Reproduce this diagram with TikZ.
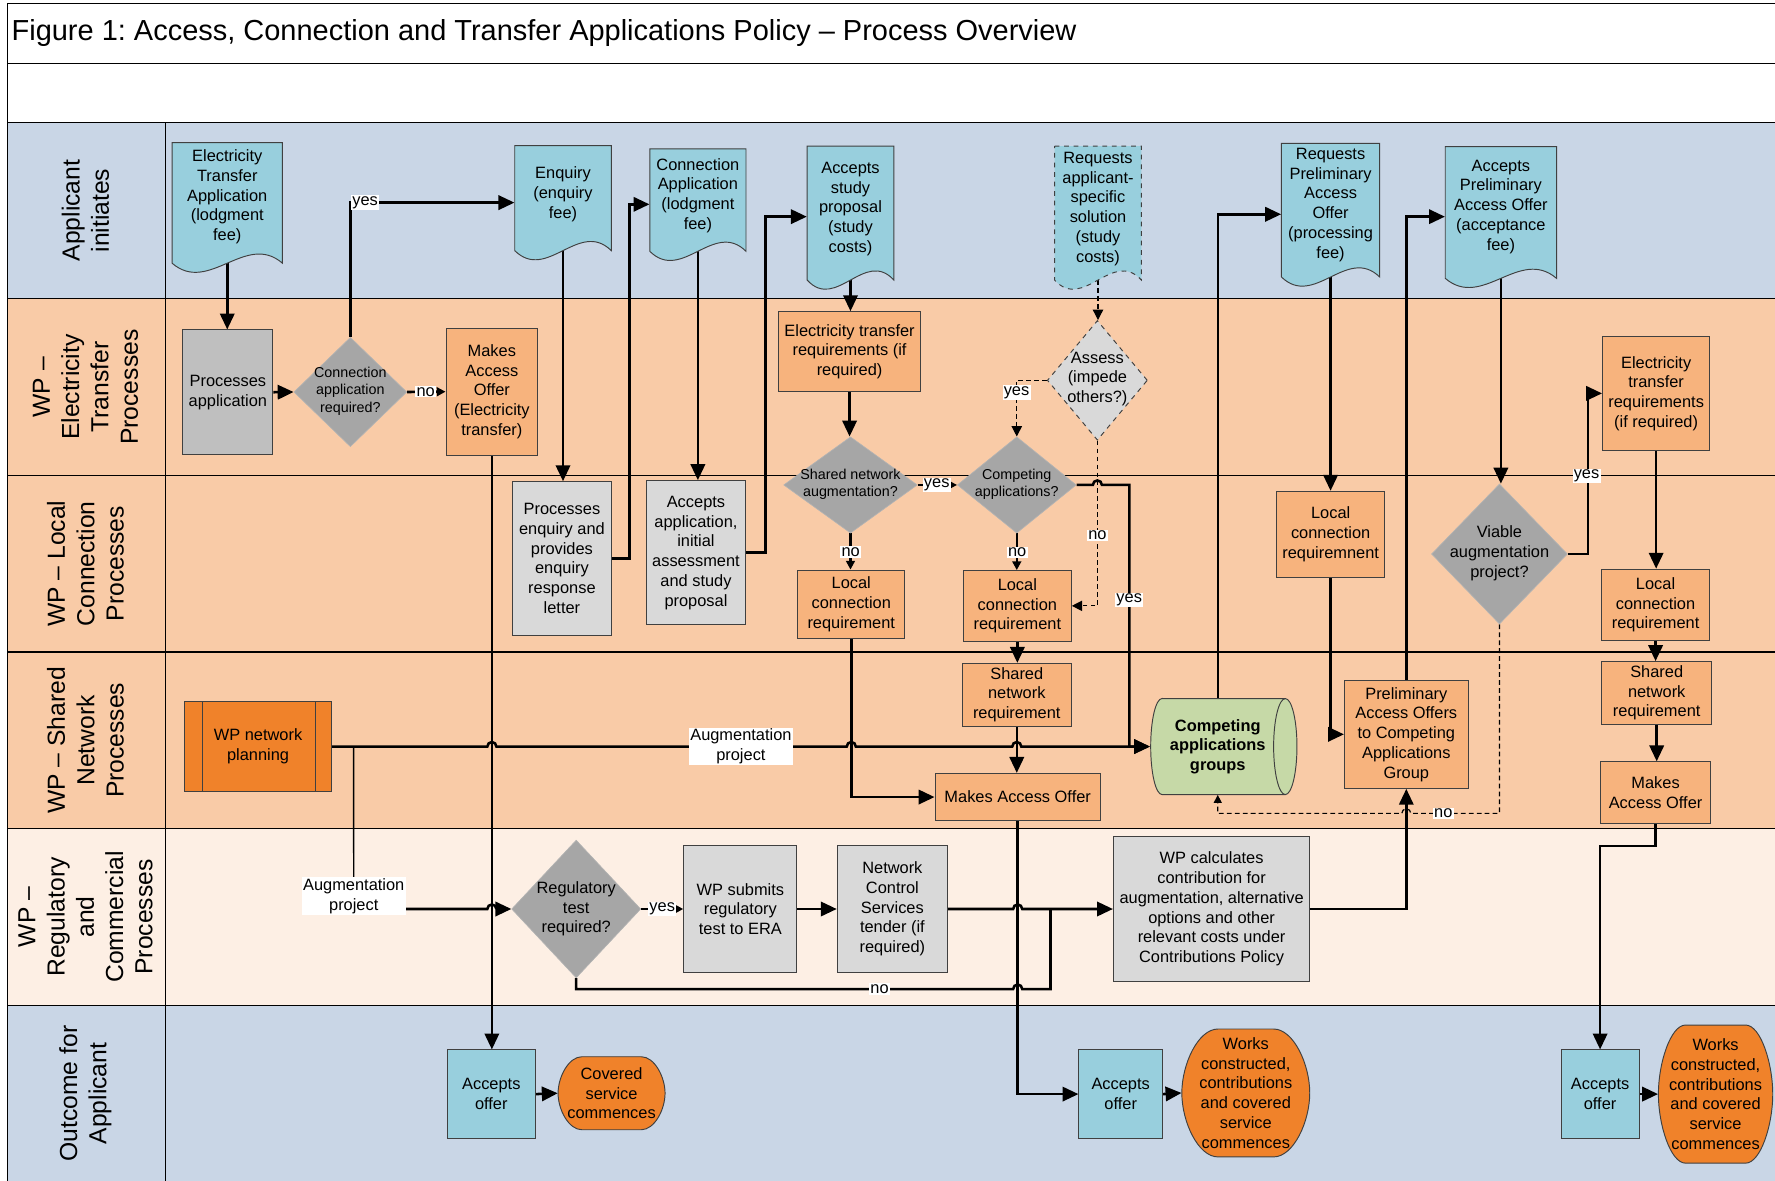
\documentclass[tikz,border=0pt]{standalone}
\usepackage{fontspec}
\setmainfont{Liberation Sans}
\usetikzlibrary{shapes.geometric,arrows.meta,calc}
\pgfdeclarelayer{bg}
\pgfdeclarelayer{lines}
\pgfsetlayers{bg,lines,main}
\frenchspacing
\definecolor{laneblue}{HTML}{C9D6E6}
\definecolor{lanepeach}{HTML}{F9CBA7}
\definecolor{lanelight}{HTML}{FDEFE4}
\definecolor{docblue}{HTML}{98CFDD}
\definecolor{orangebox}{HTML}{F7B37D}
\definecolor{dorange}{HTML}{F0822A}
\definecolor{graydia}{HTML}{A6A6A6}
\definecolor{graymid}{HTML}{BFBFBF}
\definecolor{graylt}{HTML}{D9D9D9}
\definecolor{cylgreen}{HTML}{C6D9A7}
\definecolor{boxedge}{HTML}{404040}
\newcommand{\docpath}[5][]{\path[docshape,#1] (#2,#3) -- (#4,#3) -- (#4,#5) .. controls ({#4-(#4-#2)/3},{#5-28}) and ({#2+(#4-#2)/3},{#5+28}) .. (#2,#5) -- cycle;}
\newcommand{\termpath}[5]{\path[termshape] ({#1+#5},#2) -- ({#3-#5},#2) .. controls ({#3-0.4477*#5},#2) and (#3,{#2+0.2761*(#4-#2)}) .. (#3,{(#2+#4)/2}) .. controls (#3,{#4-0.2761*(#4-#2)}) and ({#3-0.4477*#5},#4) .. ({#3-#5},#4) -- ({#1+#5},#4) .. controls ({#1+0.4477*#5},#4) and (#1,{#4-0.2761*(#4-#2)}) .. (#1,{(#2+#4)/2}) .. controls (#1,{#2+0.2761*(#4-#2)}) and ({#1+0.4477*#5},#2) .. ({#1+#5},#2) -- cycle;}
\tikzset{
  every node/.style={font=\fontsize{10.3}{12.4}\selectfont, inner sep=0pt, align=center},
  box/.style={rectangle, draw=boxedge, line width=0.6pt},
  obox/.style={box, fill=orangebox},
  gbox/.style={box, fill=graylt},
  bbox/.style={box, fill=docblue},
  docshape/.style={fill=docblue, draw=boxedge, line width=0.6pt},
  termshape/.style={fill=dorange, draw=boxedge, line width=0.6pt},
  doctext/.style={rectangle},
  dia/.style={diamond, fill=graydia, draw=graydia!85!white, line width=0.4pt},
  sm/.style={font=\fontsize{9}{11}\selectfont},
  lab/.style={fill=white, inner sep=0.8pt},
  lanelab/.style={rotate=90, font=\fontsize{15.5}{18.4}\selectfont},
  conn/.style={line width=1.6pt, -{Triangle[length=10pt,width=9pt]}},
  sconn/.style={line width=1.6pt, -{Triangle[length=5.5pt,width=5.5pt]}},
  plainline/.style={line width=1.6pt},
  dconn/.style={line width=0.75pt, dash pattern=on 3pt off 2pt, -{Triangle[length=6.5pt,width=6.5pt]}},
  dsconn/.style={line width=0.75pt, dash pattern=on 3pt off 2pt, -{Triangle[length=5pt,width=5pt]}},
}
\begin{document}
\begin{tikzpicture}[x=0.025cm,y=-0.025cm]
\useasboundingbox (0,0) rectangle (1568,1043);
\begin{pgfonlayer}{bg}
  \fill[white] (0,0) rectangle (1568,1043);
  \fill[laneblue] (7,108) rectangle (1568,264);
  \fill[lanepeach] (7,264) rectangle (1568,732);
  \fill[lanelight] (7,732) rectangle (1568,888);
  \fill[laneblue] (7,888) rectangle (1568,1043);
  \draw[line width=0.7pt] (7,1043) -- (7,3) -- (1568,3);
  \foreach \yy in {56,108,264,420,576,732,888} \draw[line width=0.7pt] (7,\yy) -- (1568,\yy);
  \draw[line width=0.7pt] (146,108) -- (146,1043);
\end{pgfonlayer}

\node[anchor=west, font=\fontsize{18.2}{22}\selectfont] (title) at (10,29.5) {Figure 1: Access, Connection and Transfer Applications Policy – Process Overview};

% lane labels
\node[lanelab] (L1) at (75.5,186) {Applicant\\initiates};
\node[lanelab] (L2) at (75.5,342) {WP –\\Electricity\\Transfer\\Processes};
\node[lanelab] (L3) at (75.5,498) {WP – Local\\Connection\\Processes};
\node[lanelab] (L4) at (75.5,654) {WP – Shared\\Network\\Processes};
\node[lanelab] (L5) at (75.5,810) {WP –\\Regulatory\\and\\Commercial\\Processes};
\node[lanelab] (L6) at (75.5,966) {Outcome for\\Applicant};

% documents
\docpath{152}{126}{249.5}{232.5}
\node[doctext, minimum width=2.4375cm, minimum height=2.4cm] (eta) at (200.75,174) {Electricity\\Transfer\\Application\\(lodgment\\fee)};
\docpath{454.7}{128.7}{540}{221.4}
\node[doctext, minimum width=2.1325cm, minimum height=2.14cm] (enq) at (497.35,171.5) {Enquiry\\(enquiry\\fee)};
\docpath{574}{131.6}{659}{222}
\node[doctext, minimum width=2.125cm, minimum height=2.055cm] (capp) at (616.5,172.7) {Connection\\Application\\(lodgment\\fee)};
\docpath{713}{129}{789.6}{247.4}
\node[doctext, minimum width=1.915cm, minimum height=2.775cm] (asp) at (751.3,184.5) {Accepts\\study\\proposal\\(study\\costs)};
\docpath[dashed]{931.6}{129}{1008.3}{247.4}
\node[doctext, minimum width=1.9175cm, minimum height=2.775cm] (rass) at (969.95,184.5) {Requests\\applicant-\\specific\\solution\\(study\\costs)};
\docpath{1132}{126.6}{1218.8}{244.7}
\node[doctext, minimum width=2.17cm, minimum height=2.72cm] (rpao) at (1175.4,181) {Requests\\Preliminary\\Access\\Offer\\(processing\\fee)};
\docpath{1276.7}{129.6}{1375}{245.9}
\node[doctext, minimum width=2.4575cm, minimum height=2.645cm] (apao) at (1325.85,182.5) {Accepts\\Preliminary\\Access Offer\\(acceptance\\fee)};

% WP - Electricity transfer lane
\node[box, fill=graymid, minimum width=1.985cm, minimum height=2.75cm] (pa) at (201.3,346.5) {Processes\\application};
\node[dia, minimum width=2.4925cm, minimum height=2.415cm] (car) at (309.5,346.3) {};
\node[sm] (car-t) at (309.5,345.3) {Connection\\application\\required?};
\node[obox, minimum width=2.025cm, minimum height=2.8cm] (maoET) at (434.5,346) {Makes\\Access\\Offer\\(Electricity\\transfer)};
\node[obox, minimum width=3.125cm, minimum height=1.7675cm] (etr1) at (750.5,310.7) {Electricity transfer\\requirements (if\\required)};
\node[diamond, fill=graylt, draw=boxedge, line width=0.6pt, dashed, minimum width=2.21cm, minimum height=2.6425cm] (ass) at (969.4,336) {};
\node (ass-t) at (969.4,334.7) {Assess\\(impede\\others?)};
\node[obox, minimum width=2.3675cm, minimum height=2.5cm] (etr2) at (1463,347.5) {Electricity\\transfer\\requirements\\(if required)};

% decisions on boundary
\node[dia, minimum width=2.95cm, minimum height=2.125cm] (sna) at (751.3,428.4) {};
\node[sm] (sna-t) at (751.3,428) {Shared network\\augmentation?};
\node[dia, minimum width=2.625cm, minimum height=2.125cm] (cap) at (898.2,428.4) {};
\node[sm] (cap-t) at (898.2,428) {Competing\\applications?};

% WP - Local connection lane
\node[gbox, minimum width=2.18cm, minimum height=3.3875cm] (pe) at (496.4,493.3) {Processes\\enquiry and\\provides\\enquiry\\response\\letter};
\node[gbox, minimum width=2.18cm, minimum height=3.185cm] (aa) at (614.8,488.3) {Accepts\\application,\\initial\\assessment\\and study\\proposal};
\node[obox, minimum width=2.3625cm, minimum height=1.505cm] (lcr1) at (752,533.7) {Local\\connection\\requirement};
\node[obox, minimum width=2.385cm, minimum height=1.5575cm] (lcr2) at (898.7,535.2) {Local\\connection\\requirement};
\node[obox, minimum width=2.375cm, minimum height=1.9cm] (lcr3) at (1175.5,472) {Local\\connection\\requiremnent};
\node[dia, minimum width=3.0cm, minimum height=3.0925cm] (via) at (1324.6,489.4) {};
\node (via-t) at (1324.6,488.7) {Viable\\augmentation\\project?};
\node[obox, minimum width=2.375cm, minimum height=1.58cm] (lcr4) at (1462.5,534.4) {Local\\connection\\requirement};

% WP - Shared network lane
\node[box, fill=dorange, minimum width=3.25cm, minimum height=1.975cm] (wpnet) at (228,659.5) {WP network\\planning};
\draw[boxedge, line width=0.6pt] ($(wpnet.north west)+(16,0)$) -- ($(wpnet.south west)+(16,0)$)
  ($(wpnet.north east)+(-15,0)$) -- ($(wpnet.south east)+(-15,0)$);
\node[obox, minimum width=2.41cm, minimum height=1.385cm] (snr1) at (898.2,613.7) {Shared\\network\\requirement};
\node[obox, minimum width=3.65cm, minimum height=1.045cm] (mao1) at (899,704.1) {Makes Access Offer};
\path[fill=cylgreen, draw=boxedge, line width=0.6pt] (1026.5,617.1) -- (1135.4,617.1)
  arc[start angle=90,end angle=-90,x radius=0.2575cm,y radius=1.06cm] -- (1026.5,701.9)
  arc[start angle=270,end angle=90,x radius=0.25cm,y radius=1.06cm] -- cycle;
\draw[boxedge, line width=0.6pt] (1135.4,617.1) arc[start angle=90,end angle=270,x radius=0.2575cm,y radius=1.06cm];
\node[minimum width=2.98cm, minimum height=2.12cm, font=\bfseries\fontsize{10.3}{12.4}\selectfont] (cyl) at (1075.75,659.5) {Competing\\applications\\groups};
\node[obox, minimum width=2.7325cm, minimum height=2.385cm] (pao) at (1242.3,648.7) {Preliminary\\Access Offers\\to Competing\\Applications\\Group};
\node[obox, minimum width=2.425cm, minimum height=1.3775cm] (snr2) at (1463.5,612) {Shared\\network\\requirement};
\node[obox, minimum width=2.425cm, minimum height=1.35cm] (mao2) at (1462.5,700) {Makes\\Access Offer};

% WP - Regulatory lane
\node[dia, minimum width=2.85cm, minimum height=3.0425cm] (reg) at (509,803) {};
\node (reg-t) at (509,803) {Regulatory\\test\\required?};
\node[gbox, minimum width=2.5cm, minimum height=2.81cm] (wps) at (654,803) {WP submits\\regulatory\\test to ERA};
\node[gbox, minimum width=2.435cm, minimum height=2.81cm] (ncs) at (788.3,803) {Network\\Control\\Services\\tender (if\\required)};
\node[gbox, minimum width=4.335cm, minimum height=3.2cm] (wpc) at (1070.3,803) {WP calculates\\contribution for\\augmentation, alternative\\options and other\\relevant costs under\\Contributions Policy};

% Outcome lane
\node[bbox, minimum width=1.95cm, minimum height=1.95cm] (ao1) at (434,966.5) {Accepts\\offer};
\node[bbox, minimum width=1.845cm, minimum height=1.95cm] (ao2) at (990,966.5) {Accepts\\offer};
\node[bbox, minimum width=1.725cm, minimum height=1.95cm] (ao3) at (1413.5,966.5) {Accepts\\offer};
\termpath{493}{933.5}{587.5}{998}{21}
\node[minimum width=2.3625cm, minimum height=1.6125cm] (csc) at (540.25,965.75) {Covered\\service\\commences};
\termpath{1044}{909}{1157}{1022}{32}
\node[minimum width=2.825cm, minimum height=2.825cm] (wc1) at (1100.5,965.5) {Works\\constructed,\\contributions\\and covered\\service\\commences};
\termpath{1465}{905.5}{1566}{1027.5}{24}
\node[minimum width=2.525cm, minimum height=3.05cm] (wc2) at (1515.5,966.5) {Works\\constructed,\\contributions\\and covered\\service\\commences};

% connector labels
\node[lab] (lyes1) at (322.5,179) {yes};
\node[lab] (lno1) at (376,346) {no};
\node[lab] (lyes2) at (827.5,428.4) {yes};
\node[lab] (lno2) at (751.5,487.5) {no};
\node[lab] (lno3) at (898.5,488) {no};
\node[lab] (lyes3) at (898,346.9) {yes};
\node[lab] (lno4) at (969.4,473.2) {no};
\node[lab] (lyes4) at (997.5,530) {yes};
\node[lab] (lyes5) at (1401.5,420.5) {yes};
\node[lab] (lno5) at (1275,718.5) {no};
\node[lab] (lyes6) at (585,803) {yes};
\node[lab] (lno6) at (777,873.7) {no};
\node[lab] (aug1) at (654.5,659.5) {Augmentation\\project};
\node[lab] (aug2) at (312.5,791.5) {Augmentation\\project};
\coordinate (j1) at (312.3,659.5);
\coordinate (j2) at (928,803);

\begin{pgfonlayer}{lines}
  \draw[conn] (eta.south) -- (eta.south |- pa.north);
  \draw[conn] (pa.east) -- (car.west);
  \draw[conn] (car.north) |- ($(enq.west)+(0,7.5)$);
  \draw[sconn] (car.east) -- (maoET.west);
  \draw[conn] (maoET.south) -- (maoET.south |- ao1.north);
  \draw[conn] (enq.south) -- (enq.south |- pe.north);
  \draw[conn] (pe.east) -- ++(15.7,0) |- ($(capp.west)+(0,7.8)$);
  \draw[conn] (capp.south) -- (capp.south |- aa.north);
  \draw[conn] (aa.east) -- ++(17.2,0) |- ($(asp.west)+(0,6.9)$);
  \draw[conn] (asp.south) -- (asp.south |- etr1.north);
  \draw[conn] (etr1.south) -- (etr1.south |- sna.north);
  \draw[sconn] (sna.east) -- (cap.west);
  \draw[sconn] (sna.south) -- (sna.south |- lcr1.north);
  \draw[sconn] (cap.south) -- (cap.south |- lcr2.north);
  \draw[conn] (lcr1.south) |- (mao1.west);
  \draw[conn] (lcr2.south) -- (lcr2.south |- snr1.north);
  \draw[conn] (snr1.south) -- (snr1.south |- mao1.north);
  \draw[conn] (cap.east) -- (965.4,428.4) arc[start angle=180,end angle=0,radius=0.1cm] -- (997.7,428.4) |- (cyl.west);
  \draw[conn] (wpnet.east) -- (430.5,659.5) arc[start angle=180,end angle=0,radius=0.1cm]
     -- (748,659.5) arc[start angle=180,end angle=0,radius=0.1cm]
     -- (894.2,659.5) arc[start angle=180,end angle=0,radius=0.1cm] -- (cyl.west);
  \draw[line width=0.9pt] (j1) -- (aug2.north);
  \draw[conn] ($(aug2.east)+(0,11.5)$) -- (430.5,803) arc[start angle=180,end angle=0,radius=0.1cm] -- (reg.west);
  \draw[sconn] (reg.east) -- (wps.west);
  \draw[conn] (wps.east) -- (ncs.west);
  \draw[conn] (ncs.east) -- (895,803) arc[start angle=180,end angle=0,radius=0.1cm] -- (wpc.west);
  \draw[plainline] (reg.south) |- (895,873.7) arc[start angle=180,end angle=0,radius=0.1cm] -- (928,873.7) -- (j2);
  \draw[conn] (mao1.south) |- (ao2.west);
  \draw[conn] (ao1.east) -- (csc.west);
  \draw[conn] (ao2.east) -- (wc1.west);
  \draw[conn] (ao3.east) -- (wc2.west);
  \draw[conn] (cyl.north) |- ($(rpao.west)+(0,8.3)$);
  \draw[conn] (rpao.south) -- (rpao.south |- lcr3.north);
  \draw[conn] (lcr3.south) |- (pao.west);
  \draw[conn] (wpc.east) -| (pao.south);
  \draw[conn] (pao.north) |- ($(apao.west)+(0,8.9)$);
  \draw[conn] (apao.south) -- (apao.south |- via.north);
  \draw[conn] (via.east) -- ++(17.8,0) |- (etr2.west);
  \draw[dsconn] (via.south) -- (1324.6,718.5) -- (1246.3,718.5) arc[start angle=0,end angle=180,radius=0.1cm] -- (1075.75,718.5) -- (cyl.south);
  \draw[conn] (etr2.south) -- (etr2.south |- lcr4.north);
  \draw[conn] (lcr4.south) -- (lcr4.south |- snr2.north);
  \draw[conn] (snr2.south) -- (snr2.south |- mao2.north);
  \draw[conn] (mao2.south) -- ++(0,20) -| (ao3.north);
  \draw[dconn] (rass.south) -- (rass.south |- ass.north);
  \draw[dconn] (ass.west) -| (cap.north);
  \draw[dconn] (ass.south) |- (lcr2.east);
\end{pgfonlayer}
\end{tikzpicture}
\end{document}
